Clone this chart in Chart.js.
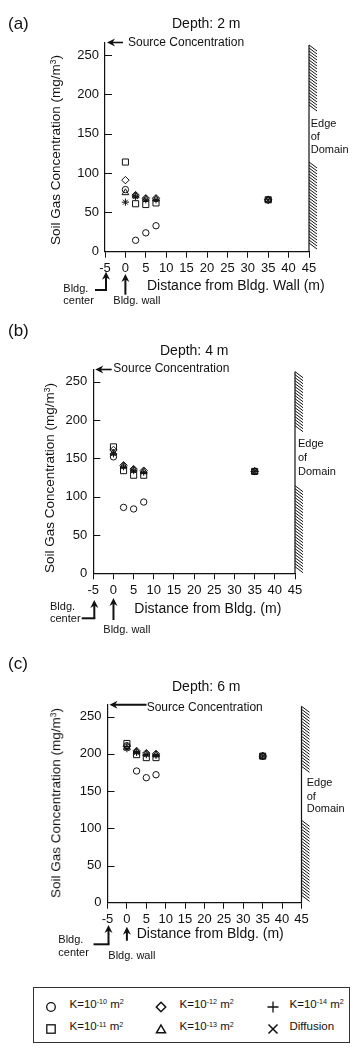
<!DOCTYPE html>
<html><head><meta charset="utf-8">
<script src="https://cdn.jsdelivr.net/npm/chart.js@4/dist/chart.umd.min.js"></script>
<style>
html,body{margin:0;padding:0;background:#fff;}
body{width:358px;height:1050px;position:relative;overflow:hidden;font-family:"Liberation Sans",Arial,sans-serif;color:#111;}
.t{position:absolute;white-space:nowrap;line-height:1;transform:translateY(-50%);}
.r{position:absolute;white-space:nowrap;line-height:1;transform:translate(-50%,-50%) rotate(-90deg);}
sup{font-size:0.62em;position:relative;top:-0.45em;vertical-align:baseline;line-height:0;}
canvas{position:absolute;left:0;}
#legend{position:absolute;left:33px;top:987px;width:315px;height:54px;border:1.5px solid #333;}
.lm{position:absolute;}
</style></head><body>
<canvas id="pa" width="358" height="320" style="top:0px"></canvas>
<canvas id="pb" width="358" height="330" style="top:320px"></canvas>
<canvas id="pc" width="358" height="330" style="top:650px"></canvas>
<div id="legend"></div>
<script>
// ---------- data ----------
const distances = [0, 2.5, 5, 7.5, 35];
const xTickValues = [-5, 0, 5, 10, 15, 20, 25, 30, 35, 40, 45];
const yTickValues = [0, 50, 100, 150, 200, 250];
const sourceConc = 266;
const edgeOfDomain = 45;
const bldgCenter = -5;
const bldgWall = 0;

// Depth 2 m
const d2_K10 = [79, 14.5, 24, 33, 66];
const d2_K11 = [114, 61, 60, 62, 66];
const d2_K12 = [91, 72, 68, 68, 66];
const d2_K13 = [75, 71, 67, 67, 66];
const d2_K14 = [63, 70, 66, 66, 66];
const d2_Diff = [63, 70, 66, 66, 66];
// Depth 4 m
const d4_K10 = [152, 86, 84, 93, 133];
const d4_K11 = [165, 134, 128, 128, 133];
const d4_K12 = [161, 141, 136, 134, 133];
const d4_K13 = [157, 140, 135, 133, 133];
const d4_K14 = [156, 139, 134, 132, 133];
const d4_Diff = [156, 139, 134, 132, 133];
// Depth 6 m
const d6_K10 = [211, 177, 168, 172, 197];
const d6_K11 = [214, 199, 195, 195, 197];
const d6_K12 = [210, 204, 201, 200, 197];
const d6_K13 = [208, 203, 200, 199, 197];
const d6_K14 = [207, 202, 199, 198, 197];
const d6_Diff = [207, 202, 199, 198, 197];

const seriesLabels = ['K=10\u207B\u00B9\u2070 m\u00B2', 'K=10\u207B\u00B9\u00B9 m\u00B2', 'K=10\u207B\u00B9\u00B2 m\u00B2', 'K=10\u207B\u00B9\u00B3 m\u00B2', 'K=10\u207B\u00B9\u2074 m\u00B2', 'Diffusion'];

// ---------- styling ----------
const FONT = "'Liberation Sans', Arial, sans-serif";
const INK = '#111';
Chart.defaults.font.family = FONT;
Chart.defaults.color = INK;
const markStyles = [
  {ps: 'circle', r: 3.2},
  {ps: 'rect', r: 4.3},
  {ps: 'rectRot', r: 3.7},
  {ps: 'triangle', r: 3.9},
  {ps: 'cross', r: 3.6},
  {ps: 'crossRot', r: 3.4}
];

function line(ctx, x1, y1, x2, y2) { ctx.beginPath(); ctx.moveTo(x1, y1); ctx.lineTo(x2, y2); ctx.stroke(); }

const annot = {
  id: 'annot',
  afterDraw(chart, args, o) {
    const ctx = chart.ctx, xs = chart.scales.x, ys = chart.scales.y, ca = chart.chartArea;
    ctx.save();
    ctx.strokeStyle = INK; ctx.fillStyle = INK; ctx.lineCap = 'butt';
    // inner y tick marks
    ctx.lineWidth = 1;
    yTickValues.forEach(v => {
      if (v === 0) return;
      const y = Math.round(ys.getPixelForValue(v)) + 0.5;
      line(ctx, ca.left, y, ca.left + 7, y);
    });
    // source concentration arrow
    const sy = ys.getPixelForValue(sourceConc);
    const tip = ca.left + 2;
    ctx.lineWidth = o.srcW;
    line(ctx, tip + 4, sy, ca.left + o.srcLen, sy);
    ctx.beginPath(); ctx.moveTo(tip, sy); ctx.lineTo(tip + 8, sy - 4); ctx.lineTo(tip + 5.5, sy); ctx.lineTo(tip + 8, sy + 4); ctx.closePath(); ctx.fill();
    // edge of domain with hatching
    const ex = xs.getPixelForValue(edgeOfDomain);
    const hTop = ca.top + o.hatchTop;
    ctx.lineWidth = 1.2;
    line(ctx, ex, hTop, ex, ca.bottom);
    ctx.lineWidth = 1;
    for (let y = hTop; y < ca.bottom - 6; y += 3) {
      if (y > o.gap[0] - 6 && y < o.gap[1]) continue;
      line(ctx, ex, y, ex + 8, y + 6);
    }
    // building center arrow (L-shaped)
    const cx = xs.getPixelForValue(bldgCenter) + 1;
    const b = ca.bottom;
    ctx.lineWidth = 2;
    line(ctx, cx, b + o.cTip + 4, cx, b + o.cBot);
    line(ctx, cx + 1, b + o.cBot, cx - o.cH, b + o.cBot);
    ctx.beginPath(); ctx.moveTo(cx, b + o.cTip); ctx.lineTo(cx - 4, b + o.cTip + 8); ctx.lineTo(cx, b + o.cTip + 5.5); ctx.lineTo(cx + 4, b + o.cTip + 8); ctx.closePath(); ctx.fill();
    // building wall arrow
    const wx = xs.getPixelForValue(bldgWall);
    line(ctx, wx, b + o.wTip + 4, wx, b + o.wBot);
    ctx.beginPath(); ctx.moveTo(wx, b + o.wTip); ctx.lineTo(wx - 4, b + o.wTip + 8); ctx.lineTo(wx, b + o.wTip + 5.5); ctx.lineTo(wx + 4, b + o.wTip + 8); ctx.closePath(); ctx.fill();
    ctx.restore();
  }
};

function makePanel(id, g, series, ann) {
  const datasets = series.map((s, i) => ({
    label: seriesLabels[i],
    data: distances.map((x, j) => ({x: x, y: s[j]})),
    pointStyle: markStyles[i].ps,
    pointRadius: markStyles[i].r,
    borderColor: INK,
    backgroundColor: 'rgba(0,0,0,0)',
    borderWidth: 1,
    showLine: false
  }));
  new Chart(document.getElementById(id), {
    type: 'scatter',
    data: {datasets},
    plugins: [annot],
    options: {
      responsive: false, animation: false, devicePixelRatio: 1,
      layout: {padding: {left: 0, top: g.T, right: 358 - g.R, bottom: 0}},
      plugins: {legend: {display: false}, tooltip: {enabled: false}, annot: ann},
      scales: {
        x: {
          type: 'linear', min: -5, max: 45,
          afterBuildTicks: s => { s.ticks = xTickValues.map(v => ({value: v})); },
          afterFit: s => { s.height = g.H - g.B; },
          ticks: {font: {size: 13}, color: INK, padding: 3, maxRotation: 0, autoSkip: false},
          grid: {drawOnChartArea: false, drawTicks: true, tickLength: 6, color: INK, lineWidth: 1},
          border: {display: true, color: INK, width: 1.2}
        },
        y: {
          type: 'linear', min: 0, max: 266,
          afterBuildTicks: s => { s.ticks = yTickValues.map(v => ({value: v})); },
          afterFit: s => { s.width = g.L; },
          ticks: {font: {size: 13}, color: INK, padding: 6},
          grid: {display: false, drawTicks: false},
          border: {display: true, color: INK, width: 1.2}
        }
      }
    }
  });
}

makePanel('pa', {L: 105, R: 309, T: 42.5, B: 251.7, H: 320},
  [d2_K10, d2_K11, d2_K12, d2_K13, d2_K14, d2_Diff],
  {srcLen: 18, srcW: 1.6, hatchTop: 2.5, gap: [113, 160], cTip: 20, cBot: 38.3, cH: 11, wTip: 22.3, wBot: 43});
makePanel('pb', {L: 93.3, R: 295, T: 49.5, B: 253.3, H: 330},
  [d4_K10, d4_K11, d4_K12, d4_K13, d4_K14, d4_Diff],
  {srcLen: 18.4, srcW: 1.6, hatchTop: 2.2, gap: [113, 163], cTip: 26.7, cBot: 45, cH: 12.6, wTip: 24.7, wBot: 46.7});
makePanel('pc', {L: 107.5, R: 301.5, T: 54.8, B: 252.7, H: 330},
  [d6_K10, d6_K11, d6_K12, d6_K13, d6_K14, d6_Diff],
  {srcLen: 39, srcW: 2, hatchTop: 1.5, gap: [123, 168], cTip: 22.3, cBot: 41.6, cH: 15, wTip: 24, wBot: 38});

// ---------- text ----------
function txt(html, x, cy, size, cls) {
  const d = document.createElement('div');
  d.className = cls || 't';
  d.style.left = x + 'px'; d.style.top = cy + 'px'; d.style.fontSize = size + 'px';
  d.innerHTML = html;
  document.body.appendChild(d);
  return d;
}
const yTitle = 'Soil Gas Concentration (mg/m<sup>3</sup>)';
// panel a
txt('(a)', 8, 23, 17);
txt('Depth: 2 m', 172, 22.7, 14);
txt('Source Concentration', 128, 42.3, 12);
txt(yTitle, 56, 150, 13.5, 'r');
txt('Distance from Bldg. Wall (m)', 147, 285, 14);
txt('Bldg.', 63.3, 288.3, 11); txt('center', 63.3, 300, 11);
txt('Bldg. wall', 113.3, 300, 11);
txt('Edge', 310.7, 123, 11); txt('of', 310.7, 136, 11); txt('Domain', 310.7, 149, 11);
// panel b
txt('(b)', 8, 330, 17);
txt('Depth: 4 m', 160, 350, 14);
txt('Source Concentration', 113.3, 368.3, 12);
txt(yTitle, 50, 478, 13.5, 'r');
txt('Distance from Bldg. (m)', 134.3, 608.3, 14);
txt('Bldg.', 50, 606, 11); txt('center', 50, 618.3, 11);
txt('Bldg. wall', 103.3, 629.3, 11);
txt('Edge', 298, 443, 11); txt('of', 298, 457, 11); txt('Domain', 298, 471, 11);
// panel c
txt('(c)', 8, 663, 17);
txt('Depth: 6 m', 172, 686, 14);
txt('Source Concentration', 146.7, 706.7, 12);
txt(yTitle, 56, 803, 13.5, 'r');
txt('Distance from Bldg. (m)', 136.7, 933.3, 14);
txt('Bldg.', 58.3, 939.3, 11); txt('center', 58.3, 951.7, 11);
txt('Bldg. wall', 108.3, 955, 11);
txt('Edge', 306.7, 782.3, 11); txt('of', 306.7, 795.5, 11); txt('Domain', 306.7, 808.3, 11);

// ---------- legend ----------
const legendHtml = ['K=10<sup>-10</sup> m<sup>2</sup>', 'K=10<sup>-11</sup> m<sup>2</sup>', 'K=10<sup>-12</sup> m<sup>2</sup>', 'K=10<sup>-13</sup> m<sup>2</sup>', 'K=10<sup>-14</sup> m<sup>2</sup>', 'Diffusion'];
const legendSvg = [
  '<circle cx="6" cy="6" r="4.3" fill="none" stroke="#111" stroke-width="1.3"/>',
  '<rect x="1.8" y="1.8" width="8.4" height="8.4" fill="none" stroke="#111" stroke-width="1.3"/>',
  '<path d="M6 1.3 L10.7 6 L6 10.7 L1.3 6 Z" fill="none" stroke="#111" stroke-width="1.5"/>',
  '<path d="M6 2 L10.5 9.8 L1.5 9.8 Z" fill="none" stroke="#111" stroke-width="1.5"/>',
  '<path d="M6 0.5 V11.5 M0.5 6 H11.5" stroke="#111" stroke-width="1.3"/>',
  '<path d="M1.5 1.5 L10.5 10.5 M10.5 1.5 L1.5 10.5" stroke="#111" stroke-width="1.5"/>'
];
const legCols = [[0, 1], [2, 3], [4, 5]];
const legMarkX = [51.7, 161.7, 273.3], legTextX = [70, 180, 290], legRowY = [1005, 1027.3];
const leg = document.getElementById('legend');
legCols.forEach((col, c) => col.forEach((si, r) => {
  const m = document.createElement('div');
  m.className = 'lm';
  m.style.left = (legMarkX[c] - 6 - 34.5) + 'px';
  m.style.top = (legRowY[r] - 6 - 988.5) + 'px';
  m.innerHTML = '<svg width="12" height="12">' + legendSvg[si] + '</svg>';
  leg.appendChild(m);
  const t = document.createElement('div');
  t.className = 't';
  t.style.left = (legTextX[c] - 34.5) + 'px';
  t.style.top = (legRowY[r] - 988.5) + 'px';
  t.style.fontSize = '11.5px';
  t.innerHTML = legendHtml[si];
  leg.appendChild(t);
}));
</script>
</body></html>
